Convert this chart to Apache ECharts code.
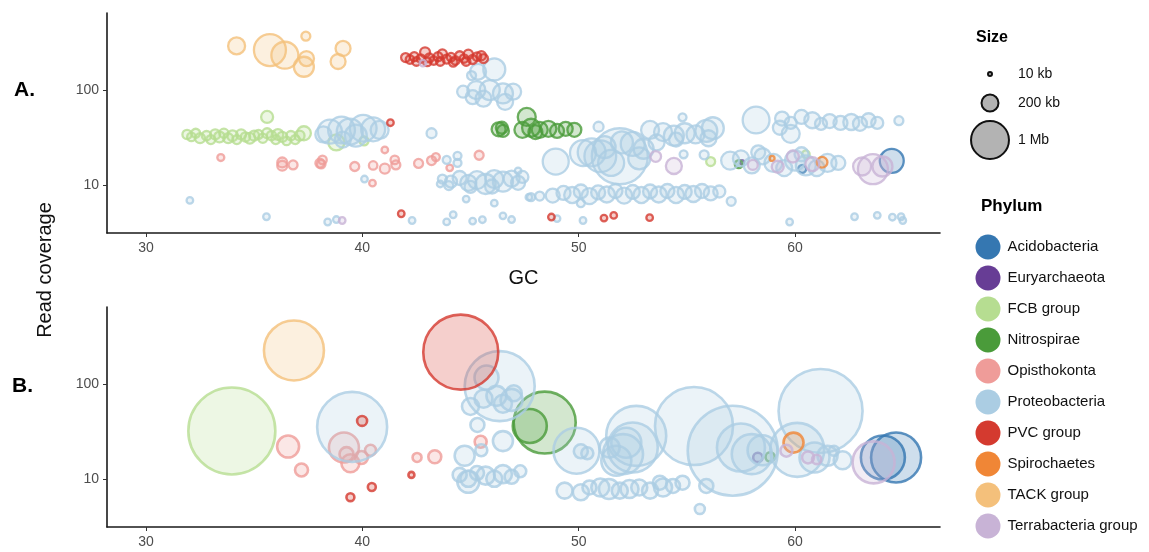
<!DOCTYPE html>
<html>
<head>
<meta charset="utf-8">
<script src="https://cdn.jsdelivr.net/npm/echarts@6.0.0/dist/echarts.min.js"></script>
<style>
  html, body { margin: 0; padding: 0; background: #fff; }
  #chart { width: 1149px; height: 552px; }
</style>
</head>
<body>
<div id="chart"></div>
<script>
  // each point: [GC, read coverage, length in kb]
  var phyla = ['Acidobacteria', 'Euryarchaeota', 'FCB group', 'Nitrospirae', 'Opisthokonta',
    'Proteobacteria', 'PVC group', 'Spirochaetes', 'TACK group', 'Terrabacteria group'];
  var colors = ['#3577b1', '#673d95', '#b6dd91', '#4a9b3a', '#ef9c99',
    '#abcde3', '#d43a2f', '#f08636', '#f4c07b', '#c8b3d6'];
  var xTicks = [30, 40, 50, 60];
  var yTicks = [10, 100];
  var sizeLegendKb = [10, 200, 1000];
  var sizeLegendLabels = ['10 kb', '200 kb', '1 Mb'];

  // panel A
  var acidobacteriaA = [[64.47, 17.9, 400], [60.33, 14.7, 44]];
  var euryarchaeotaA = [[57.55, 17.3, 8]];
  var fcbA = [
    [31.9, 34, 60], [32.1, 32, 50], [32.3, 35, 56], [32.5, 31, 69], [32.8, 33, 60], [33.0, 30, 56],
    [33.2, 34, 69], [33.4, 32, 80], [33.6, 35, 60], [33.8, 31, 69], [34.0, 33, 80], [34.2, 30, 56],
    [34.4, 34, 69], [34.6, 32, 60], [34.8, 31, 80], [35.0, 33, 69], [35.2, 34, 56], [35.4, 31, 60],
    [35.6, 35, 69], [35.6, 52, 100], [35.8, 33, 60], [36.0, 30, 56], [36.1, 34, 80], [36.3, 32, 69],
    [36.5, 29, 50], [36.7, 33, 60], [36.9, 30, 56], [37.1, 33, 69], [37.3, 35, 136], [38.8, 28, 178],
    [40.08, 29, 56], [56.1, 17.6, 56], [60.5, 21, 40]
  ];
  var nitrospiraeA = [
    [46.3, 38.5, 136], [46.5, 37, 100], [46.45, 40, 100], [47.6, 52, 225], [47.4, 38, 178], [47.8, 40, 225],
    [48.0, 36, 136], [48.2, 38, 178], [48.6, 39, 178], [49.0, 37, 136], [49.4, 39, 136], [49.8, 38, 136],
    [57.4, 16.5, 44]
  ];
  var opisthokontaA = [
    [33.46, 19.4, 34], [36.3, 17.2, 69], [36.3, 15.9, 69], [36.8, 16.2, 56], [38.04, 16.9, 56],
    [38.16, 18.3, 50], [38.1, 16.5, 50], [39.65, 15.6, 56], [40.5, 16.0, 50], [41.04, 14.8, 69],
    [41.5, 18.3, 50], [41.55, 16.2, 56], [41.04, 23.3, 30], [40.47, 10.4, 30], [42.6, 16.8, 56],
    [43.2, 18.0, 56], [43.4, 19.6, 44], [44.04, 15.1, 30], [45.4, 20.5, 56]
  ];
  var proteobacteriaA = [
    [32.03, 6.84, 30], [35.57, 4.6, 30], [38.4, 4.05, 30], [38.8, 4.3, 30], [40.1, 11.5, 30],
    [42.3, 4.2, 30], [43.2, 35, 69], [43.9, 4.06, 30], [44.2, 4.83, 30], [45.1, 4.14, 30],
    [45.55, 4.28, 30], [46.5, 4.7, 30], [46.9, 4.3, 30], [47.2, 14, 30], [44.8, 7.07, 30],
    [46.1, 6.4, 30], [47.7, 7.4, 30], [44.4, 20.2, 44], [44.4, 17, 44], [43.9, 18.3, 44],
    [38.5, 36.4, 400], [39.04, 37.9, 500], [39.42, 36.4, 470], [40.04, 39.5, 500], [40.5, 38.5, 400],
    [40.8, 37.9, 225], [39.7, 33, 336], [39.1, 30, 178], [38.2, 34, 178],
    [43.7, 11.5, 56], [44.1, 10.8, 100], [44.5, 11.8, 136], [44.9, 10.5, 178], [45.3, 11.2, 225],
    [45.7, 10.2, 278], [46.1, 11.5, 225], [46.5, 10.8, 278], [46.9, 11.6, 178], [47.2, 10.5, 136],
    [47.4, 12.1, 100], [44.0, 9.8, 56], [45.0, 9.5, 100], [46.0, 9.6, 136], [43.6, 10.2, 30],
    [46.1, 165, 336], [45.35, 156, 178], [45.05, 142, 56], [44.66, 96, 100], [45.27, 100, 225],
    [45.89, 100, 278], [46.5, 92, 278], [46.97, 96, 178], [46.6, 75, 178], [45.6, 81, 178], [45.1, 84, 136],
    [50.92, 41, 69], [54.8, 51.5, 44], [48.94, 17.6, 470], [50.2, 21.6, 470], [51.9, 20, 2178],
    [51.0, 20, 700], [53.3, 37.9, 225], [51.2, 25, 336], [52.5, 27, 400], [53.0, 24, 278],
    [52.0, 28, 336], [51.5, 17, 470], [52.8, 19, 336], [50.6, 22, 540], [53.6, 28, 178],
    [53.9, 36, 225], [54.4, 33, 278], [54.9, 35, 278], [55.4, 34, 225], [55.9, 37, 336],
    [56.2, 39.5, 336], [56.0, 31, 178], [54.5, 30, 136],
    [49.3, 8.2, 136], [49.7, 7.8, 178], [50.1, 8.5, 136], [50.5, 7.6, 178], [50.9, 8.3, 136],
    [51.3, 7.9, 178], [51.7, 8.6, 136], [52.1, 7.7, 178], [52.5, 8.4, 136], [52.9, 7.8, 178],
    [53.3, 8.5, 136], [53.7, 7.9, 178], [54.1, 8.6, 136], [54.5, 7.8, 178], [54.9, 8.4, 136],
    [55.3, 8.0, 178], [55.7, 8.6, 136], [56.1, 8.1, 136], [47.8, 7.4, 44], [48.2, 7.6, 56],
    [48.8, 7.7, 136], [50.1, 6.4, 44], [50.2, 4.2, 30], [49.0, 4.4, 30], [56.5, 8.5, 100],
    [57.05, 6.7, 56], [54.85, 21, 44], [55.8, 20.7, 56],
    [58.2, 48.3, 500], [59.8, 34.5, 225], [59.4, 50, 136], [59.8, 45, 100], [60.3, 52, 136],
    [60.8, 48, 178], [61.2, 44, 100], [61.6, 47, 136], [62.1, 45, 136], [62.6, 46, 178],
    [63.0, 44, 136], [63.4, 48, 136], [63.8, 45, 100], [59.3, 40, 136], [64.8, 47.5, 56],
    [57.0, 18, 225], [57.5, 19, 178], [58.0, 16, 178], [58.5, 20, 178], [59.0, 17, 225],
    [59.5, 15, 178], [60.0, 18, 278], [60.5, 16, 278], [61.0, 15, 178], [61.5, 17, 225],
    [62.0, 17, 136], [58.3, 22, 136], [60.3, 21, 136],
    [59.75, 4.05, 30], [62.75, 4.6, 30], [63.8, 4.76, 30], [64.5, 4.55, 30], [64.9, 4.6, 30], [64.98, 4.2, 30]
  ];
  var pvcA = [
    [42.0, 220, 56], [42.2, 210, 50], [42.4, 225, 56], [42.7, 215, 50], [42.9, 250, 69], [43.1, 218, 56],
    [43.3, 205, 50], [43.5, 225, 56], [43.7, 240, 60], [43.9, 212, 56], [44.1, 222, 50], [44.3, 205, 50],
    [44.5, 230, 56], [44.7, 215, 50], [44.9, 238, 60], [45.1, 210, 56], [45.3, 225, 50], [45.5, 230, 60],
    [42.5, 200, 50], [43.0, 198, 50], [43.6, 200, 50], [44.2, 196, 50], [44.8, 200, 50], [45.6, 215, 56],
    [41.3, 45.2, 30], [41.8, 4.95, 30], [48.74, 4.57, 30], [51.17, 4.45, 30], [51.62, 4.75, 30], [53.28, 4.5, 30]
  ];
  var spirochaetesA = [[61.25, 17.3, 80], [58.94, 19, 17]];
  var tackA = [
    [34.19, 292, 200], [35.73, 264, 711], [36.42, 233, 506], [37.39, 370, 56],
    [37.42, 215, 156], [37.3, 176, 278], [39.11, 275, 156], [38.88, 200, 156]
  ];
  var terrabacteriaA = [
    [53.56, 19.9, 80], [54.4, 15.8, 178], [63.6, 14.6, 625], [63.1, 15.6, 225], [64.04, 15.6, 278],
    [58.05, 16.2, 69], [59.9, 19.9, 100], [59.2, 15.5, 100], [60.8, 16.5, 136], [39.07, 4.2, 30], [42.8, 192, 30]
  ];

  // panel B
  var acidobacteriaB = [[64.06, 16.8, 1344], [64.67, 16.8, 1736]];
  var euryarchaeotaB = [[58.28, 16.8, 60]];
  var fcbB = [[33.97, 32, 5256]];
  var nitrospiraeB = [[48.43, 39.2, 2669], [47.74, 36.1, 803], [58.85, 17, 60]];
  var opisthokontaB = [
    [36.57, 21.9, 336], [37.19, 12.4, 117], [39.15, 21.4, 625], [39.27, 18.2, 136], [39.45, 14.6, 225],
    [39.96, 16.8, 117], [40.38, 20, 84], [42.53, 16.8, 56], [43.35, 17.1, 117], [45.47, 24.6, 100]
  ];
  var proteobacteriaB = [
    [46.35, 95, 3403], [45.74, 117, 400], [45.6, 70, 225], [46.2, 75, 278], [46.9, 68, 336],
    [46.5, 62, 225], [47.0, 80, 178], [45.0, 58, 200], [45.32, 37, 136], [44.73, 17.5, 278],
    [46.5, 25, 278], [45.5, 20, 100], [44.5, 11, 136], [44.9, 10, 178], [45.3, 11.5, 136],
    [45.7, 10.8, 225], [46.1, 10, 178], [46.5, 11.2, 225], [46.9, 10.5, 136], [44.9, 9.3, 336],
    [47.3, 12, 100], [39.53, 35.3, 3403], [49.9, 19.8, 1469], [50.1, 19.5, 136], [50.4, 18.6, 100],
    [52.66, 28.4, 2500], [52.5, 21.4, 1736], [52.05, 18.2, 1111], [51.74, 15.5, 625], [51.43, 21.4, 278],
    [52.2, 24, 625], [55.33, 36.1, 4225], [57.12, 19.8, 5625], [57.5, 21.4, 1600], [58.0, 18.2, 1111],
    [58.5, 20, 625], [61.18, 52, 4900], [60.1, 20.2, 2025], [60.9, 16.8, 625], [61.5, 17.5, 278],
    [62.2, 15.7, 225], [61.8, 19.8, 69],
    [49.35, 7.5, 178], [50.1, 7.2, 178], [50.5, 8.1, 136], [51.0, 8.1, 225], [51.4, 7.8, 278],
    [51.9, 7.5, 178], [52.35, 7.8, 225], [52.8, 8.1, 178], [53.3, 7.5, 178], [53.75, 9.1, 136],
    [53.9, 8.1, 225], [54.36, 8.4, 136], [54.8, 9.1, 136], [55.9, 8.4, 136], [55.6, 4.8, 69]
  ];
  var pvcB = [[44.55, 217, 3906], [39.99, 40.8, 69], [40.44, 8.2, 44], [39.45, 6.4, 44], [42.27, 11.0, 25]];
  var spirochaetesB = [[59.93, 24.1, 278]];
  var tackB = [[36.84, 226, 2500]];
  var terrabacteriaB = [[63.63, 14.9, 1225], [59.6, 19.8, 100], [60.6, 16.8, 100], [61.0, 16.0, 60]];

  var panelA = [acidobacteriaA, euryarchaeotaA, fcbA, nitrospiraeA, opisthokontaA,
    proteobacteriaA, pvcA, spirochaetesA, tackA, terrabacteriaA];
  var panelB = [acidobacteriaB, euryarchaeotaB, fcbB, nitrospiraeB, opisthokontaB,
    proteobacteriaB, pvcB, spirochaetesB, tackB, terrabacteriaB];

  function sizeOf(kb) {
    return Math.max(4, 1.2 * Math.sqrt(kb));
  }
  function fade(hex, a) {
    var n = parseInt(hex.slice(1), 16);
    return 'rgba(' + (n >> 16) + ',' + ((n >> 8) & 255) + ',' + (n & 255) + ',' + a + ')';
  }

  var font = '"Liberation Sans", Helvetica, Arial, sans-serif';

  function xAx(idx, withName) {
    return {
      type: 'value', gridIndex: idx, min: 28.2, max: 66.7,
      name: withName ? 'GC' : '', nameLocation: 'middle', nameGap: 35,
      nameTextStyle: { fontFamily: font, fontSize: 20, color: '#111' },
      axisLine: { onZero: false, lineStyle: { color: '#1a1a1a', width: 1.6 } },
      axisTick: { length: 4, lineStyle: { color: '#333' }, customValues: xTicks },
      axisLabel: { fontFamily: font, fontSize: 14, color: '#4d4d4d', margin: 8, customValues: xTicks },
      splitLine: { show: false }
    };
  }
  function yAx(idx) {
    return {
      type: 'log', logBase: 10, gridIndex: idx, min: 3.1, max: 650,
      axisLine: { show: true, lineStyle: { color: '#1a1a1a', width: 1.6 } },
      axisTick: { show: true, length: 4, lineStyle: { color: '#333' }, customValues: yTicks },
      axisLabel: { fontFamily: font, fontSize: 14, color: '#4d4d4d', margin: 8, customValues: yTicks },
      splitLine: { show: false }
    };
  }

  var series = [];
  [panelA, panelB].forEach(function (panel, p) {
    panel.forEach(function (pts, i) {
      series.push({
        name: phyla[i],
        type: 'scatter',
        xAxisIndex: p,
        yAxisIndex: p,
        data: pts,
        symbol: 'circle',
        symbolSize: function (v) { return sizeOf(v[2]); },
        itemStyle: { color: fade(colors[i], 0.3), borderColor: colors[i], borderWidth: p === 0 ? 2.3 : 2.6 },
        emphasis: { disabled: true },
        silent: true
      });
    });
  });

  var graphics = [
    { type: 'text', left: 14, top: 80, style: { text: 'A.', font: 'bold 21px ' + font, fill: '#000' } },
    { type: 'text', left: 12, top: 376, style: { text: 'B.', font: 'bold 21px ' + font, fill: '#000' } },
    { type: 'text', x: 45, y: 270, rotation: Math.PI / 2,
      style: { text: 'Read coverage', font: '20px ' + font, fill: '#111', align: 'center', verticalAlign: 'middle' } },
    { type: 'text', left: 976, top: 30, style: { text: 'Size', font: 'bold 16px ' + font, fill: '#000' } },
    { type: 'text', left: 981, top: 198, style: { text: 'Phylum', font: 'bold 17px ' + font, fill: '#000' } }
  ];
  var sizeY = [74, 103, 140];
  sizeLegendKb.forEach(function (kb, i) {
    graphics.push({ type: 'circle', shape: { cx: 990, cy: sizeY[i], r: sizeOf(kb) / 2 },
      style: { fill: '#b3b3b3', stroke: '#111', lineWidth: 2 } });
    graphics.push({ type: 'text', x: 1018, y: sizeY[i],
      style: { text: sizeLegendLabels[i], font: '14px ' + font, fill: '#111', verticalAlign: 'middle' } });
  });
  // solid legend swatches, placed where the legend's own (hidden) icons sit
  phyla.forEach(function (p, i) {
    graphics.push({ type: 'circle', z: 100, shape: { cx: 988, cy: 247 + i * 31, r: 12.5 },
      style: { fill: colors[i] } });
  });

  var chart = echarts.init(document.getElementById('chart'));
  chart.setOption({
    animation: false,
    backgroundColor: '#fff',
    grid: [
      { left: 107, top: 13, width: 833, height: 220 },
      { left: 107, top: 307, width: 833, height: 220 }
    ],
    xAxis: [xAx(0, true), xAx(1, false)],
    yAxis: [yAx(0), yAx(1)],
    legend: {
      orient: 'vertical', left: 975.5, top: 234.5, padding: 0,
      icon: 'circle', itemWidth: 25, itemHeight: 25, itemGap: 6,
      selectedMode: false,
      textStyle: { fontFamily: font, fontSize: 15, color: '#111', padding: [4, 0, 0, 2] },
      data: phyla.map(function (p) {
        return { name: p, itemStyle: { color: 'rgba(0,0,0,0)', borderWidth: 0 } };
      })
    },
    graphic: graphics,
    series: series
  });
</script>
</body>
</html>
